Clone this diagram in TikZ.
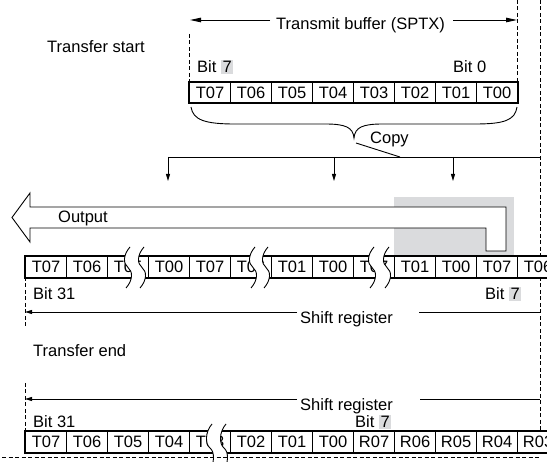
\documentclass[tikz,border=0pt]{standalone}
\usepackage{fontspec}
\setmainfont{Liberation Sans}
\usetikzlibrary{arrows.meta}
\definecolor{hlgray}{RGB}{218,219,221}
\newcommand{\graysev}{{\setlength{\fboxsep}{1.5pt}\colorbox{hlgray}{7}}}
% wavy break across a register: left x, right x, top y, bottom y
\newcommand{\regbreak}[4]{%
  \fill[white] ({#1+2},#3) .. controls ({#1-5},{#3+8}) and ({#1-5},{(#3+#4)/2-4}) .. ({#1},{(#3+#4)/2})
    .. controls ({#1+5},{(#3+#4)/2+4}) and ({#1+5},{#4-8}) .. ({#1-2},#4) -- ({#2-2},#4)
    .. controls ({#2+5},{#4-8}) and ({#2+5},{(#3+#4)/2+4}) .. ({#2},{(#3+#4)/2})
    .. controls ({#2-5},{(#3+#4)/2-4}) and ({#2-5},{#3+8}) .. ({#2+2},#3) -- cycle;
  \foreach \wx in {#1,#2}
    \draw[wavy] ({\wx+2},#3) .. controls ({\wx-5},{#3+8}) and ({\wx-5},{(#3+#4)/2-4}) .. ({\wx},{(#3+#4)/2})
      .. controls ({\wx+5},{(#3+#4)/2+4}) and ({\wx+5},{#4-8}) .. ({\wx-2},#4);
}
\begin{document}
\begin{tikzpicture}[x=1pt,y=-1pt,
  every node/.style={font=\fontsize{16.5}{18}\selectfont},
  regcell/.style={draw,line width=1.2pt,minimum width=41pt,minimum height=20.5pt,inner sep=0pt,anchor=west},
  regframe/.style={line width=1.6pt},
  guide/.style={line width=0.8pt,dash pattern=on 4pt off 2.5pt},
  thinline/.style={line width=0.9pt},
  wavy/.style={line width=0.9pt},
  tip/.style={-{Triangle[length=7pt,width=4pt]}},
  longtip/.style={-{Triangle[length=11pt,width=4.5pt]}},
  txt/.style={anchor=base west,inner sep=0pt}]
\useasboundingbox (0,0) rectangle (547,462);
\clip (0,0) rectangle (547,462);

% ---- transfer start
\node[txt] (start) at (47,53) {Transfer start};
\draw[guide] (189,34) -- (189,82);
\draw[guide] (517,0) -- (517,82);
\draw[guide] (540,0) -- (540,257);
\node[txt] (sptx) at (276,29.5) {Transmit buffer (SPTX)};
\coordinate (sptxl) at (190,20);
\coordinate (sptxr) at (517,20);
\draw[thinline,longtip] (270,20) -- (sptxl);
\draw[thinline,longtip] (453,20) -- (sptxr);
\node[txt] (tbit7) at (197,73) {Bit \graysev};
\node[txt] (tbit0) at (453,73) {Bit 0};
\foreach \lab [count=\i from 0] in {T07,T06,T05,T04,T03,T02,T01,T00}
  \node[regcell] (tb\i) at ({189+41*\i},92.5) {\lab};
\draw[regframe] (tb0.north west) rectangle (tb7.south east);

% brace and copy
\draw[thinline] (191,107) .. controls (193,120) and (205,124) .. (235,124) -- (325,124)
  .. controls (345,124) and (353,127) .. (354,138) .. controls (355,127) and (363,124) .. (383,124)
  -- (475,124) .. controls (505,124) and (515,120) .. (517,107);
\node[txt] (copy) at (370,144) {Copy};
\coordinate (copytip) at (356,143);
\coordinate (copyend) at (400,157);
\coordinate (dl) at (168,157);
\coordinate (dm) at (334,157);
\coordinate (dr) at (453,157);
\coordinate (dend) at (540,157);
\draw[thinline] (copytip) -- (copyend);
\draw[thinline] (dl) -- (dend);
\foreach \d in {dl,dm,dr}
  \draw[thinline,tip] (\d) -- ++(0,24);

% ---- output arrow
\fill[hlgray] (394,197) rectangle (514,257);
\draw[thinline,fill=white] (12,217.5) -- (30,193) -- (30,207) -- (506,207) -- (506,251)
  -- (486,251) -- (486,228) -- (30,228) -- (30,242) -- cycle;
\node[txt] (output) at (58,223) {Output};

% ---- shift register during transfer
\foreach \lab [count=\i from 0] in {T07,T06,T05,T00,T07,T06,T01,T00,T07,T01,T00,T07,T06}
  \node[regcell] (mr\i) at ({25+41*\i},267) {\lab};
\draw[regframe] (mr0.north west) rectangle (mr12.south east);
\regbreak{128}{142}{247}{288}
\regbreak{253}{266}{247}{288}
\regbreak{372}{387}{247}{288}
\draw[guide] (25,277) -- (25,326);
\draw[guide] (540,277) -- (540,432);
\node[txt] (mbit31) at (33,299.5) {Bit 31};
\node[txt] (mbit7) at (485,299.5) {Bit \graysev};
\coordinate (mshl) at (25,312);
\coordinate (mshr) at (540,312);
\node[txt] (mshift) at (300,324) {Shift register};
\draw[thinline,tip] (297,312) -- (mshl);
\draw[thinline] (mshr) -- (419,312);

% ---- transfer end
\node[txt] (tend) at (33,357) {Transfer end};
\draw[guide] (25,383) -- (25,432);
\coordinate (bshl) at (25,399);
\coordinate (bshr) at (540,399);
\node[txt] (bshift) at (300,411) {Shift register};
\draw[thinline,tip] (297,399) -- (bshl);
\draw[thinline] (bshr) -- (420,399);
\node[txt] (bbit31) at (33,428) {Bit 31};
\node[txt] (bbit7) at (355,428) {Bit \graysev};
\foreach \lab [count=\i from 0] in {T07,T06,T05,T04,T03,T02,T01,T00,R07,R06,R05,R04,R03}
  \node[regcell] (br\i) at ({25+41*\i},442) {\lab};
\draw[regframe] (br0.north west) rectangle (br12.south east);
\regbreak{210}{224}{424}{472}
\draw[guide] (2,457) -- (540,457);
\end{tikzpicture}
\end{document}
